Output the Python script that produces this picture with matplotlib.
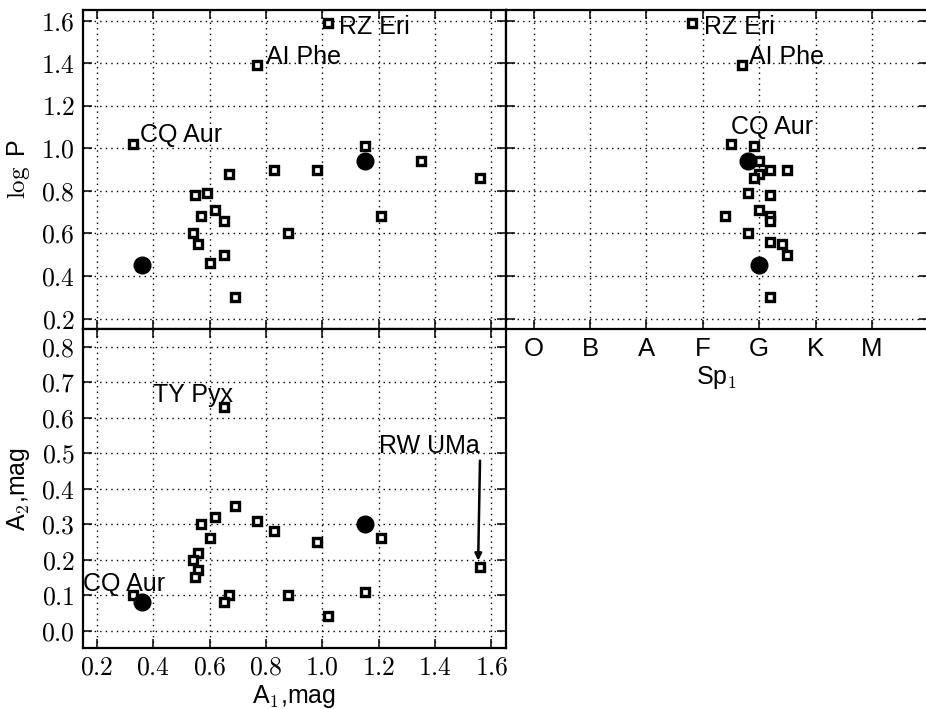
import numpy as np
import matplotlib
matplotlib.use('Agg')
import matplotlib.pyplot as plt
from matplotlib.ticker import FuncFormatter

plt.rcParams['font.family'] = ['Liberation Sans', 'DejaVu Sans']
plt.rcParams['mathtext.fontset'] = 'cm'
plt.rcParams['font.size'] = 18

# log P vs A1 (top left)
a1_sq_p = [1.02, 0.77, 0.33, 1.15, 1.35, 1.56, 0.67, 0.83, 0.98, 0.55, 0.59,
           0.57, 0.62, 0.65, 0.88, 1.21, 0.54, 0.56, 0.65, 0.60, 0.69]
logp_sq_a = [1.59, 1.39, 1.02, 1.01, 0.94, 0.86, 0.88, 0.90, 0.90, 0.78, 0.79,
             0.68, 0.71, 0.66, 0.60, 0.68, 0.60, 0.55, 0.50, 0.46, 0.30]
a1_ci_p = [0.36, 1.15]
logp_ci_a = [0.45, 0.94]

# log P vs spectral type (top right), O=0 B=1 A=2 F=3 G=4 K=5 M=6
sp_sq = [2.8, 3.7, 3.5, 3.9, 4.0, 4.2, 4.5, 4.0, 3.9, 3.8, 4.2, 4.0, 3.4, 4.2,
         4.2, 3.8, 4.2, 4.4, 4.5, 4.2]
logp_sq_s = [1.59, 1.39, 1.02, 1.01, 0.94, 0.90, 0.90, 0.88, 0.86, 0.79, 0.78,
             0.71, 0.68, 0.68, 0.66, 0.60, 0.56, 0.55, 0.50, 0.30]
sp_ci = [4.0, 3.8]
logp_ci_s = [0.45, 0.94]
sp_names = ['O', 'B', 'A', 'F', 'G', 'K', 'M']

# A2 vs A1 (bottom left)
a1_sq = [0.65, 1.56, 0.33, 0.69, 0.62, 0.57, 0.77, 0.83, 0.60, 0.98, 1.21,
         0.56, 0.54, 0.56, 0.55, 0.67, 0.65, 0.88, 1.15, 1.02]
a2_sq = [0.63, 0.18, 0.10, 0.35, 0.32, 0.30, 0.31, 0.28, 0.26, 0.25, 0.26,
         0.22, 0.20, 0.17, 0.15, 0.10, 0.08, 0.10, 0.11, 0.04]
a1_ci = [0.36, 1.15]
a2_ci = [0.08, 0.30]

sq = dict(ls='none', marker='s', ms=6.4, mew=2.4, mec='k', mfc='w')
ci = dict(ls='none', marker='o', ms=12, mec='k', mfc='k')

fig, axs = plt.subplots(2, 2, figsize=(9.26, 7.09), dpi=100)
fig.subplots_adjust(left=0.0893, right=1.0025, top=0.9859, bottom=0.0856,
                    hspace=0, wspace=0)
ax1, ax2 = axs[0]
ax3 = axs[1, 0]
axs[1, 1].remove()

fmt = FuncFormatter(lambda v, p: '$%.1f$' % v)

for ax in (ax1, ax2, ax3):
    ax.grid(True, color='k', linestyle=(0, (1, 3)), linewidth=1)
    ax.tick_params(direction='in', length=6.5, width=1.1, top=True, right=True,
                   labelsize=18.5, pad=5.5)
    for s in ax.spines.values():
        s.set_linewidth(1.6)

ax1.plot(a1_sq_p, logp_sq_a, **sq)
ax1.plot(a1_ci_p, logp_ci_a, **ci)
ax1.set_xlim(0.15, 1.65)
ax1.set_ylim(0.15, 1.65)
ax1.set_yticks(np.arange(0.2, 1.61, 0.2))
ax1.set_xticks(np.arange(0.2, 1.61, 0.2))
ax1.yaxis.set_major_formatter(fmt)
ax1.tick_params(labelbottom=False)
ax1.set_ylabel(r'$\log$ P')
ax1.text(1.06, 1.537, 'RZ Eri')
ax1.text(0.80, 1.397, 'AI Phe')
ax1.text(0.355, 1.029, 'CQ Aur')

ax2.plot(sp_sq, logp_sq_s, **sq)
ax2.plot(sp_ci, logp_ci_s, **ci)
ax2.set_xlim(-0.5, 7)
ax2.set_ylim(0.15, 1.65)
ax2.set_yticks(np.arange(0.2, 1.61, 0.2))
ax2.set_xticks(range(len(sp_names)))
ax2.set_xticklabels(sp_names)
ax2.tick_params(labelleft=False)
ax2.set_xlabel('Sp$_1$', labelpad=2)
ax2.text(3.02, 1.537, 'RZ Eri')
ax2.text(3.82, 1.397, 'AI Phe')
ax2.text(3.50, 1.068, 'CQ Aur')

ax3.plot(a1_sq, a2_sq, **sq)
ax3.plot(a1_ci, a2_ci, **ci)
ax3.set_xlim(0.15, 1.65)
ax3.set_ylim(-0.05, 0.85)
ax3.set_xticks(np.arange(0.2, 1.61, 0.2))
ax3.set_yticks(np.arange(0.0, 0.81, 0.1))
ax3.xaxis.set_major_formatter(fmt)
ax3.yaxis.set_major_formatter(fmt)
ax3.set_xlabel('A$_1$,mag', labelpad=2)
ax3.set_ylabel('A$_2$,mag')
ax3.text(0.40, 0.645, 'TY Pyx')
ax3.text(0.15, 0.113, 'CQ Aur')
ax3.annotate('RW UMa', xy=(1.553, 0.197), xytext=(1.56, 0.501),
             ha='right', va='baseline',
             arrowprops=dict(arrowstyle='-|>', color='k', lw=1.8,
                             relpos=(1.0, 0.2), shrinkA=0, shrinkB=0,
                             mutation_scale=10))

ax1.yaxis.set_label_coords(-0.12, 0.5)
ax3.yaxis.set_label_coords(-0.12, 0.5)

fig.savefig('out.png', dpi=100)
